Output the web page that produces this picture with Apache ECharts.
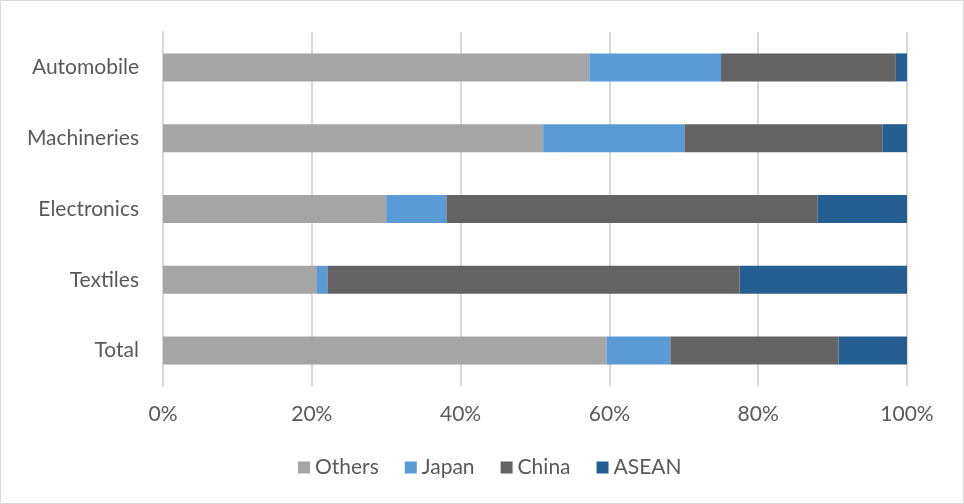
<!DOCTYPE html>
<html><head><meta charset="utf-8">
<script src="https://cdn.jsdelivr.net/npm/echarts@6/dist/echarts.min.js"></script>
<style>html,body{margin:0;padding:0;background:#fff}#c{width:962px;height:502px;border:1px solid #d9d9d9}</style>
</head><body><div id="c"></div>
<script>
const categories = ['Automobile','Machineries','Electronics','Textiles','Total'];
const others = [57.3, 51.1, 30.0, 20.7, 59.6];
const japan  = [17.7, 19.0, 8.1, 1.4, 8.6];
const china  = [23.5, 26.6, 49.9, 55.4, 22.6];
const asean  = [1.5, 3.3, 12.0, 22.5, 9.2];
const xTicks = [0, 20, 40, 60, 80, 100];

const font = 'Lato, sans-serif';
const mk = (name, data, color) => ({
  name, type: 'bar', stack: 'all', data, barWidth: 28,
  itemStyle: { color }, emphasis: { disabled: true }
});
const chart = echarts.init(document.getElementById('c'));
chart.setOption({
  animation: false,
  textStyle: { fontFamily: font },
  grid: { left: 162, right: 56, top: 31, bottom: 117, containLabel: false },
  xAxis: {
    type: 'value', min: xTicks[0], max: xTicks[xTicks.length-1], interval: 20,
    axisLabel: { formatter: '{value}%', color: '#595959', fontSize: 21, margin: 18, fontFamily: font },
    splitLine: { lineStyle: { color: '#d9d9d9', width: 2 } },
    axisLine: { show: false }, axisTick: { show: false }
  },
  yAxis: {
    type: 'category', data: categories, inverse: true,
    axisLabel: { color: '#595959', fontSize: 21, margin: 24, fontFamily: font },
    axisLine: { show: true, lineStyle: { color: '#d9d9d9', width: 2 } },
    axisTick: { show: false }
  },
  legend: {
    bottom: 20, left: 292, itemWidth: 12, itemHeight: 12, itemGap: 26,
    icon: 'rect', textStyle: { color: '#595959', fontSize: 21, fontFamily: font },
    data: ['Others','Japan','China','ASEAN']
  },
  series: [
    mk('Others', others, '#a5a5a5'),
    mk('Japan', japan, '#5b9bd5'),
    mk('China', china, '#636363'),
    mk('ASEAN', asean, '#255e91')
  ]
});
</script></body></html>
